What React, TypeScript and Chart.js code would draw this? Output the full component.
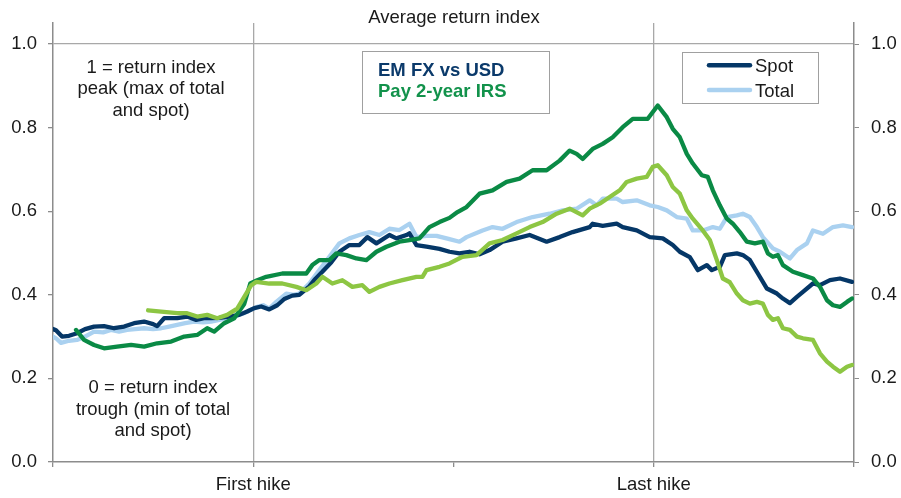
import React, { useEffect, useRef } from "react";
import { Chart, registerables } from "chart.js";

Chart.register(...registerables);

const FONT = "'Liberation Sans', Arial, sans-serif";
const TEXT = "#1a1a1a";

const TITLE = "Average return index";
const X_LABELS: Record<number, string> = { 200: "First hike", 600: "Last hike" };
const NOTE_TOP = ["1 = return index", "peak (max of total", "and spot)"];
const NOTE_BOTTOM = ["0 = return index", "trough (min of total", "and spot)"];
const BOX_LINES = ["EM FX vs USD", "Pay 2-year IRS"];
const LEGEND_LABELS = ["Spot", "Total"];

const COL_SPOT = "#053767";
const COL_TOTAL = "#AAD1F0";
const COL_IRS_DARK = "#0A8A45";
const COL_IRS_LIGHT = "#8DC643";

// x = trading-day position (0 .. 800), y = normalised return index
const spotX = [0, 3, 9, 16, 24, 32, 41, 51, 61, 71, 81, 91, 100, 104, 111, 124, 134, 143, 151, 158, 166, 176, 186, 194, 201, 208, 216, 224, 231, 239, 246, 256, 262, 269, 278, 286, 296, 306, 314, 323, 336, 343, 353, 356, 363, 373, 386, 396, 406, 416, 426, 436, 449, 463, 476, 493, 506, 519, 536, 539, 549, 563, 569, 583, 596, 609, 619, 626, 636, 644, 653, 658, 666, 671, 683, 689, 696, 704, 713, 723, 729, 736, 743, 749, 759, 766, 776, 786, 798];
const spotY = [0.318, 0.315, 0.300, 0.302, 0.308, 0.318, 0.324, 0.325, 0.320, 0.324, 0.332, 0.336, 0.330, 0.325, 0.344, 0.344, 0.348, 0.340, 0.344, 0.344, 0.345, 0.348, 0.352, 0.360, 0.368, 0.372, 0.365, 0.375, 0.390, 0.398, 0.400, 0.420, 0.438, 0.455, 0.478, 0.503, 0.519, 0.519, 0.538, 0.523, 0.543, 0.535, 0.543, 0.547, 0.519, 0.515, 0.510, 0.503, 0.499, 0.503, 0.497, 0.507, 0.527, 0.535, 0.543, 0.527, 0.538, 0.550, 0.562, 0.570, 0.565, 0.570, 0.562, 0.554, 0.538, 0.535, 0.519, 0.503, 0.490, 0.459, 0.471, 0.459, 0.467, 0.495, 0.499, 0.495, 0.483, 0.451, 0.415, 0.403, 0.391, 0.380, 0.395, 0.407, 0.427, 0.423, 0.435, 0.439, 0.431];

const totalX = [0, 3, 8, 16, 24, 32, 41, 50, 58, 66, 74, 82, 91, 100, 108, 116, 124, 132, 141, 150, 158, 166, 174, 183, 191, 198, 204, 210, 216, 223, 233, 240, 246, 256, 266, 276, 286, 296, 306, 316, 326, 336, 346, 356, 363, 373, 383, 396, 406, 413, 429, 439, 449, 463, 479, 496, 509, 523, 536, 543, 549, 563, 569, 583, 596, 604, 613, 623, 633, 639, 649, 659, 666, 673, 683, 689, 696, 703, 709, 719, 726, 736, 743, 753, 759, 769, 779, 789, 798];
const totalY = [0.300, 0.296, 0.285, 0.290, 0.292, 0.300, 0.312, 0.310, 0.316, 0.312, 0.316, 0.318, 0.320, 0.318, 0.320, 0.324, 0.328, 0.332, 0.336, 0.334, 0.336, 0.340, 0.344, 0.350, 0.356, 0.365, 0.371, 0.375, 0.367, 0.383, 0.403, 0.400, 0.403, 0.427, 0.459, 0.491, 0.523, 0.535, 0.543, 0.550, 0.543, 0.558, 0.555, 0.570, 0.538, 0.541, 0.541, 0.533, 0.527, 0.538, 0.554, 0.562, 0.558, 0.574, 0.586, 0.594, 0.602, 0.606, 0.626, 0.614, 0.630, 0.630, 0.622, 0.626, 0.614, 0.610, 0.602, 0.586, 0.582, 0.554, 0.554, 0.562, 0.558, 0.586, 0.590, 0.594, 0.586, 0.562, 0.538, 0.511, 0.503, 0.487, 0.507, 0.523, 0.554, 0.546, 0.562, 0.566, 0.562];

const irsSpotX = [23, 31, 41, 51, 64, 78, 91, 104, 118, 131, 144, 154, 161, 171, 181, 191, 197, 204, 213, 229, 246, 253, 259, 266, 276, 283, 293, 303, 313, 323, 333, 346, 356, 366, 376, 386, 396, 404, 413, 426, 439, 453, 466, 479, 493, 506, 516, 523, 529, 539, 549, 559, 569, 579, 589, 594, 604, 613, 619, 626, 633, 639, 648, 654, 659, 666, 673, 679, 686, 693, 701, 709, 714, 719, 724, 729, 739, 749, 759, 766, 773, 779, 786, 793, 798];
const irsSpotY = [0.316, 0.292, 0.280, 0.272, 0.276, 0.280, 0.276, 0.284, 0.288, 0.300, 0.304, 0.320, 0.312, 0.332, 0.344, 0.378, 0.427, 0.435, 0.443, 0.451, 0.451, 0.451, 0.471, 0.483, 0.483, 0.499, 0.495, 0.487, 0.483, 0.503, 0.515, 0.527, 0.531, 0.535, 0.562, 0.574, 0.584, 0.598, 0.610, 0.642, 0.650, 0.670, 0.678, 0.698, 0.698, 0.721, 0.745, 0.737, 0.725, 0.749, 0.761, 0.777, 0.801, 0.821, 0.821, 0.821, 0.853, 0.825, 0.797, 0.777, 0.737, 0.714, 0.686, 0.682, 0.650, 0.614, 0.582, 0.570, 0.550, 0.527, 0.523, 0.527, 0.499, 0.491, 0.495, 0.471, 0.455, 0.447, 0.439, 0.419, 0.387, 0.375, 0.371, 0.383, 0.391];

const irsTotalX = [95, 108, 124, 134, 144, 154, 164, 174, 184, 191, 198, 203, 216, 229, 243, 253, 263, 269, 279, 289, 299, 309, 316, 326, 336, 349, 363, 369, 373, 386, 396, 409, 423, 436, 449, 463, 476, 489, 503, 516, 529, 536, 546, 556, 566, 573, 583, 593, 599, 604, 613, 619, 626, 633, 639, 649, 656, 663, 669, 676, 683, 689, 696, 703, 709, 714, 719, 724, 729, 736, 743, 749, 759, 766, 773, 779, 786, 793, 798];
const irsTotalY = [0.363, 0.360, 0.356, 0.356, 0.348, 0.352, 0.344, 0.352, 0.367, 0.395, 0.423, 0.431, 0.427, 0.427, 0.419, 0.411, 0.427, 0.443, 0.427, 0.435, 0.419, 0.423, 0.407, 0.419, 0.427, 0.435, 0.443, 0.443, 0.459, 0.467, 0.475, 0.491, 0.495, 0.523, 0.531, 0.547, 0.562, 0.574, 0.594, 0.606, 0.590, 0.606, 0.618, 0.634, 0.650, 0.670, 0.678, 0.682, 0.706, 0.710, 0.686, 0.658, 0.642, 0.602, 0.582, 0.554, 0.531, 0.483, 0.439, 0.430, 0.403, 0.387, 0.379, 0.383, 0.379, 0.352, 0.340, 0.344, 0.320, 0.316, 0.300, 0.296, 0.292, 0.260, 0.240, 0.228, 0.216, 0.228, 0.232];

const pts = (xs: number[], ys: number[]) => xs.map((x, i) => ({ x, y: ys[i] }));

const near = (a: number, b: number) => Math.abs(a - b) < 1e-6;

const textPlugin = {
  id: "texts",
  afterDraw(chart: any) {
    const ctx = chart.ctx as CanvasRenderingContext2D;
    ctx.save();
    ctx.textBaseline = "alphabetic";
    ctx.fillStyle = TEXT;
    ctx.font = `18.5px ${FONT}`;
    ctx.textAlign = "center";
    ctx.fillText(TITLE, 454, 23);

    ctx.font = `18.5px ${FONT}`;
    const topBase = [72.7, 94.3, 116];
    NOTE_TOP.forEach((t, i) => ctx.fillText(t, 151, topBase[i]));
    const botBase = [393.3, 414.7, 436];
    NOTE_BOTTOM.forEach((t, i) => ctx.fillText(t, 153, botBase[i]));

    // series description box
    ctx.strokeStyle = "#A0A0A0";
    ctx.lineWidth = 1;
    ctx.strokeRect(362.5, 51.5, 187, 62);
    ctx.textAlign = "left";
    ctx.font = `bold 18.5px ${FONT}`;
    ctx.fillStyle = "#0B3A6B";
    ctx.fillText(BOX_LINES[0], 378, 76);
    ctx.fillStyle = "#12924B";
    ctx.fillText(BOX_LINES[1], 378, 96.5);

    // legend
    ctx.strokeStyle = "#A0A0A0";
    ctx.strokeRect(682.5, 52.5, 136, 51);
    const legCols = [COL_SPOT, COL_TOTAL];
    const legY = [65.3, 90];
    const legBase = [71.7, 96.7];
    LEGEND_LABELS.forEach((t, i) => {
      ctx.strokeStyle = legCols[i];
      ctx.lineWidth = 4.5;
      ctx.lineCap = "round";
      ctx.beginPath();
      ctx.moveTo(709, legY[i]);
      ctx.lineTo(750, legY[i]);
      ctx.stroke();
      ctx.fillStyle = TEXT;
      ctx.font = `18.5px ${FONT}`;
      ctx.fillText(t, 755, legBase[i]);
    });
    ctx.restore();
  },
};

export default function App() {
  const ref = useRef<HTMLCanvasElement | null>(null);
  useEffect(() => {
    document.body.style.margin = "0";
    if (!ref.current) return;
    const lineDs = (label: string, data: any[], color: string, order: number) => ({
      label,
      data,
      borderColor: color,
      backgroundColor: color,
      borderWidth: 4.3,
      pointRadius: 0,
      tension: 0,
      fill: false,
      order,
      yAxisID: "y",
      borderJoinStyle: "round" as const,
      borderCapStyle: "round" as const,
    });
    const chart = new Chart(ref.current, {
      type: "line",
      data: {
        datasets: [
          lineDs("Pay 2-year IRS total", pts(irsTotalX, irsTotalY), COL_IRS_LIGHT, 1),
          lineDs("Pay 2-year IRS spot", pts(irsSpotX, irsSpotY), COL_IRS_DARK, 2),
          lineDs("EM FX spot", pts(spotX, spotY), COL_SPOT, 3),
          lineDs("EM FX total", pts(totalX, totalY), COL_TOTAL, 4),
        ],
      },
      options: {
        responsive: false,
        animation: false,
        devicePixelRatio: 1,
        layout: { padding: { top: 22, left: 0, right: 0, bottom: 0 } },
        plugins: { legend: { display: false }, title: { display: false }, tooltip: { enabled: false } },
        scales: {
          x: {
            type: "linear",
            min: 0,
            max: 800,
            afterFit: (s: any) => { s.height = 36; },
            ticks: {
              stepSize: 200,
              autoSkip: false,
              maxRotation: 0,
              padding: 7,
              color: TEXT,
              font: { family: FONT, size: 18.5 },
              callback: (v: any) => X_LABELS[Math.round(Number(v))] ?? "",
            },
            grid: {
              color: (c: any) => (c.tick && (near(c.tick.value, 200) || near(c.tick.value, 600)) ? "#A8A8A8" : "rgba(0,0,0,0)"),
              lineWidth: 1.3,
              tickColor: "#8C8C8C",
              tickLength: 5,
              drawTicks: true,
            },
            border: { color: "#8C8C8C", width: 1.5 },
          },
          y: {
            type: "linear",
            position: "left",
            min: 0,
            max: 1.05,
            afterFit: (s: any) => { s.width = 53; },
            ticks: {
              stepSize: 0.2,
              includeBounds: false,
              padding: 11,
              color: TEXT,
              font: { family: FONT, size: 18.5 },
              callback: (v: any) => Number(v).toFixed(1),
            },
            grid: {
              color: (c: any) => (c.tick && near(c.tick.value, 1) ? "#A8A8A8" : "rgba(0,0,0,0)"),
              lineWidth: 1.3,
              tickColor: "#8C8C8C",
              tickLength: 5,
            },
            border: { color: "#8C8C8C", width: 1.5 },
          },
          y2: {
            type: "linear",
            position: "right",
            min: 0,
            max: 1.05,
            afterFit: (s: any) => { s.width = 47; },
            ticks: {
              stepSize: 0.2,
              includeBounds: false,
              padding: 12,
              color: TEXT,
              font: { family: FONT, size: 18.5 },
              callback: (v: any) => Number(v).toFixed(1),
            },
            grid: { drawOnChartArea: false, tickColor: "#8C8C8C", tickLength: 5 },
            border: { color: "#8C8C8C", width: 1.5 },
          },
        },
      },
      plugins: [textPlugin],
    });
    return () => chart.destroy();
  }, []);
  return (
    <div style={{ width: 901, height: 498, background: "#fff" }}>
      <canvas ref={ref} width={901} height={498} style={{ display: "block" }} />
    </div>
  );
}
